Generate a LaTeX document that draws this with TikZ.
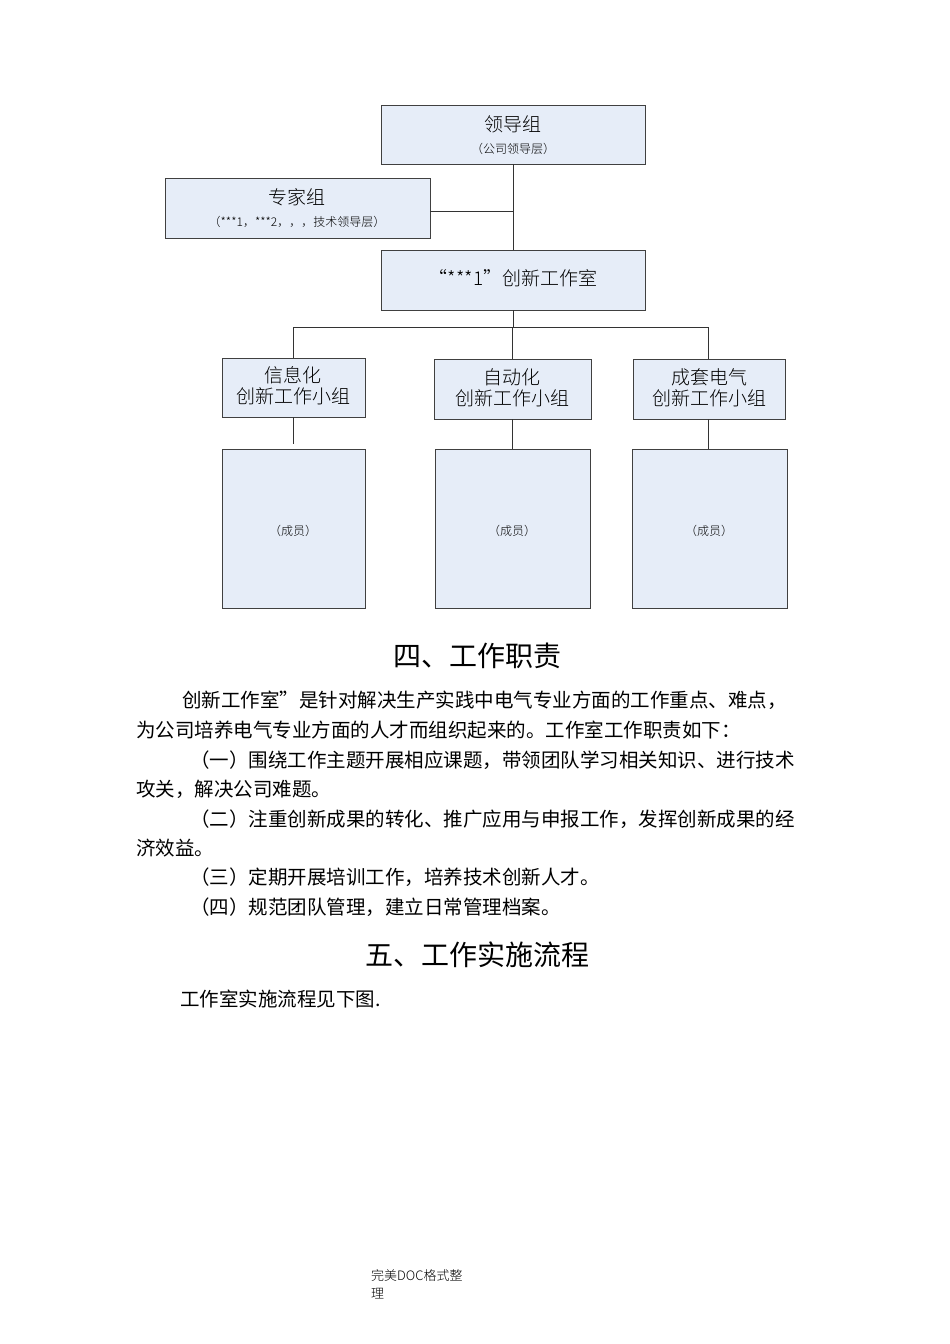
\documentclass[tikz,border=0pt]{standalone}
\usepackage{fontspec}
\setmainfont{Noto Sans CJK SC}
\newfontfamily\cjk{Noto Sans CJK SC Light}
\begin{document}
\begin{tikzpicture}[x=1pt,y=-1pt,
  bx/.style={draw=black!75,line width=1pt,fill={rgb,255:red,230;green,237;blue,248}},
  ln/.style={draw=black!80,line width=0.9pt},
  tt/.style={inner sep=0pt,font=\cjk\fontsize{19}{22}\selectfont,align=center},
  st/.style={inner sep=0pt,font=\cjk\fontsize{12}{14}\selectfont},
  body/.style={anchor=west,inner sep=0pt,font=\fontsize{19.5}{22}\selectfont}]
\useasboundingbox (0,0) rectangle (950,1344);
\draw[bx] (381,105) rectangle (645,164); \node[tt] (lead) at (513,124) {领导组}; \node[st] (leads) at (513,149) {（公司领导层）};
\draw[bx] (165,178) rectangle (430,238); \node[tt] (exp) at (297,197) {专家组}; \node[st] (exps) at (297,222) {（***1，***2，，，技术领导层）};
\draw[bx] (381,250) rectangle (645,310); \node[tt] (stu) at (513,278) {“***1”创新工作室};
\draw[bx] (222,358) rectangle (365,417); \node[tt] (g1) at (293,386) {信息化\\[-1pt]创新工作小组};
\draw[bx] (434,359) rectangle (591,419); \node[tt] (g2) at (512,388) {自动化\\[-1pt]创新工作小组};
\draw[bx] (633,359) rectangle (785,419); \node[tt] (g3) at (709,388) {成套电气\\[-1pt]创新工作小组};
\draw[bx] (222,449) rectangle (365,608); \node[st] (m1) at (293,531) {（成员）};
\draw[bx] (435,449) rectangle (590,608); \node[st] (m2) at (512,531) {（成员）};
\draw[bx] (632,449) rectangle (787,608); \node[st] (m3) at (709,531) {（成员）};
\coordinate (a) at (513,164); \coordinate (b) at (513,250);
\draw[ln] (a) -- (b); \draw[ln] (430,211) -- (513,211);
\draw[ln] (513,310) -- (513,327); \draw[ln] (293,358) -- (293,327) -- (708,327) -- (708,359);
\draw[ln] (512,327) -- (512,359);
\draw[ln] (293,417) -- (293,444); \draw[ln] (512,419) -- (512,449); \draw[ln] (708,419) -- (708,449);
\node[inner sep=0pt,font=\fontsize{28}{30}\selectfont] (h4) at (477,656) {四、工作职责};
\node[body] (p1) at (182,700) {创新工作室”是针对解决生产实践中电气专业方面的工作重点、难点，};
\node[body] (p2) at (136,730) {为公司培养电气专业方面的人才而组织起来的。工作室工作职责如下：};
\node[body] (p3) at (190,760) {（一）围绕工作主题开展相应课题，带领团队学习相关知识、进行技术};
\node[body] (p4) at (136,789) {攻关，解决公司难题。};
\node[body] (p5) at (190,819) {（二）注重创新成果的转化、推广应用与申报工作，发挥创新成果的经};
\node[body] (p6) at (136,848) {济效益。};
\node[body] (p7) at (190,877) {（三）定期开展培训工作，培养技术创新人才。};
\node[body] (p8) at (190,907) {（四）规范团队管理，建立日常管理档案。};
\node[inner sep=0pt,font=\fontsize{28}{30}\selectfont] (h5) at (477,955) {五、工作实施流程};
\node[body] (p9) at (180,999) {工作室实施流程见下图.};
\node[anchor=west,inner sep=0pt,font=\cjk\fontsize{13}{15}\selectfont] (f1) at (371,1276) {完美DOC格式整};
\node[anchor=west,inner sep=0pt,font=\cjk\fontsize{13}{15}\selectfont] (f2) at (371,1294) {理};
\end{tikzpicture}
\end{document}
